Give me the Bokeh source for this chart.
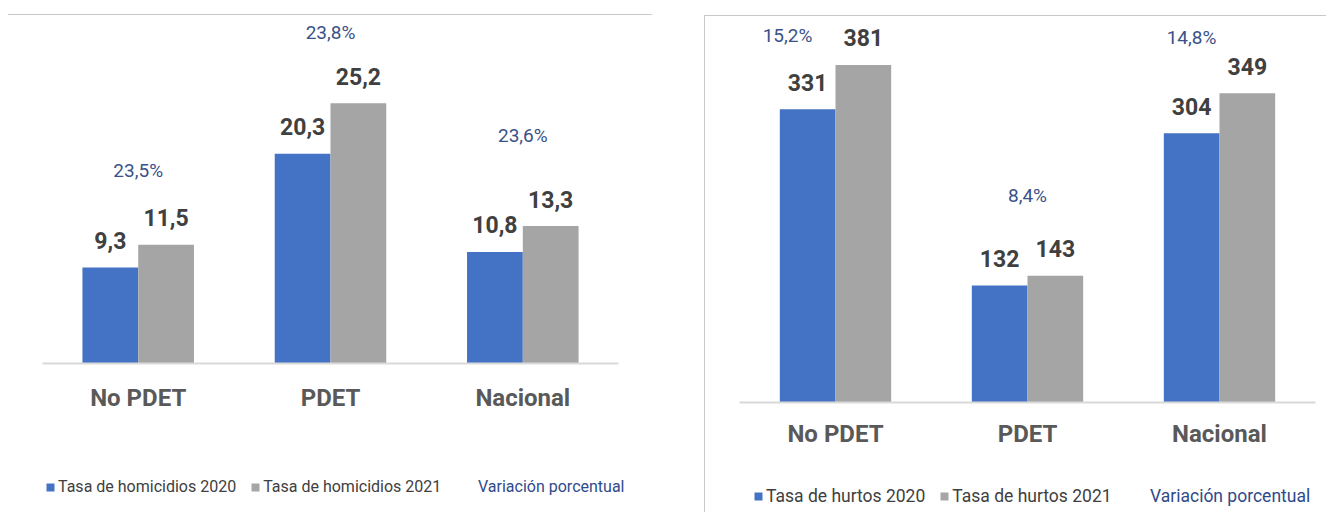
from bokeh.plotting import figure
from bokeh.models import ColumnDataSource, FactorRange, Range1d, Legend, LegendItem
from bokeh.transform import dodge
from bokeh.layouts import row
from bokeh.embed import file_html
from bokeh.resources import INLINE
from bokeh.core.properties import value

# ---------------- data ----------------
categories = ["No PDET", "PDET", "Nacional"]

hom_2020 = [9.3, 20.3, 10.8]
hom_2021 = [11.5, 25.2, 13.3]
hom_var = [23.5, 23.8, 23.6]

hurt_2020 = [331, 132, 304]
hurt_2021 = [381, 143, 349]
hurt_var = [15.2, 8.4, 14.8]

hom_labels = ["Tasa de homicidios 2020", "Tasa de homicidios 2021", "Variación porcentual"]
hurt_labels = ["Tasa de hurtos 2020", "Tasa de hurtos 2021", "Variación porcentual"]

# ---------------- label placement (layout, not data) ----------------
hom_var_label_y = [18.7, 32.0, 22.1]
hom_var_label_dx = [0, 0, 0]
hurt_var_label_y = [414, 234, 412]
hurt_var_label_dx = [-48, 0, -28]

FONT = "Roboto, 'Liberation Sans Narrow', 'DejaVu Sans Condensed', sans-serif"
FONT_V = value(FONT)
BLUE = "#4472C4"
GREY = "#A5A5A5"
PCT = "#3A5189"


def fmt1(v):
    return f"{v:.1f}".replace(".", ",")


def fmt0(v):
    return f"{v:.0f}"


def make_chart(vals_a, vals_b, var, var_y, var_dx, labels, y_lo, y_hi, fmt,
               width, height, mb_left, pad, standoff, leg_font,
               leg_x, leg_y, leg2_x, margin, styles):
    src = ColumnDataSource(dict(
        cat=categories,
        a=vals_a,
        b=vals_b,
        la=[fmt(v) for v in vals_a],
        lb=[fmt(v) for v in vals_b],
        var=var,
        vl=[fmt1(v) + "%" for v in var],
        vy=var_y,
        vdx=var_dx,
    ))
    p = figure(x_range=FactorRange(*categories, range_padding=pad,
                                   range_padding_units="absolute"),
               y_range=Range1d(y_lo, y_hi),
               width=width, height=height,
               output_backend="svg", toolbar_location=None,
               y_axis_location=None,
               min_border_left=mb_left, min_border_right=0,
               min_border_top=0, min_border_bottom=0)
    p.margin = margin
    p.styles = styles
    p.outline_line_color = None
    p.grid.visible = False
    p.background_fill_color = "white"
    p.border_fill_color = "white"

    ax = p.xaxis[0]
    ax.fixed_location = 0
    ax.bounds = (0, 3)
    ax.axis_line_color = "#D9D9D9"
    ax.axis_line_width = 2
    ax.major_tick_line_color = None
    ax.minor_tick_line_color = None
    ax.major_tick_out = 0
    ax.major_tick_in = 0
    ax.major_label_standoff = standoff
    ax.major_label_text_font = FONT
    ax.major_label_text_font_size = "24px"
    ax.major_label_text_font_style = "bold"
    ax.major_label_text_color = "#595959"

    w = 0.29
    ra = p.vbar(x=dodge("cat", -w / 2, range=p.x_range), top="a", width=w,
                source=src, fill_color=BLUE, line_color=None)
    rb = p.vbar(x=dodge("cat", w / 2, range=p.x_range), top="b", width=w,
                source=src, fill_color=GREY, line_color=None)

    for col, lab, off in (("a", "la", -w / 2), ("b", "lb", w / 2)):
        p.text(x=dodge("cat", off, range=p.x_range), y=col, text=lab, source=src,
               text_align="center", text_baseline="middle", y_offset=-27,
               text_font=FONT_V, text_font_size="23px",
               text_font_style="bold", text_color="#404040")

    rv = p.line(x="cat", y="vy", source=src, line_alpha=0)
    p.text(x="cat", y="vy", text="vl", source=src, x_offset="vdx",
           text_align="center", text_baseline="middle",
           text_font=FONT_V, text_font_size="19px", text_color=PCT)

    common = dict(orientation="horizontal", glyph_width=10, glyph_height=10,
                  label_height=10, padding=0, margin=0,
                  label_text_font=FONT, label_text_font_size=leg_font,
                  background_fill_alpha=0, border_line_color=None)
    leg = Legend(items=[LegendItem(label=labels[0], renderers=[ra]),
                        LegendItem(label=labels[1], renderers=[rb])],
                 location=(leg_x, leg_y), label_standoff=3, spacing=14,
                 label_text_color="#404040", **common)
    leg2 = Legend(items=[LegendItem(label=labels[2], renderers=[rv])],
                  location=(leg2_x, leg_y), label_standoff=0,
                  label_text_color="#2F4A8A", **{**common, "glyph_width": 0})
    p.add_layout(leg, "center")
    p.add_layout(leg2, "center")
    return p


p1 = make_chart(hom_2020, hom_2021, hom_var, hom_var_label_y, hom_var_label_dx,
                hom_labels, -149 / 10.33, 348 / 10.33, fmt1,
                width=644, height=497, mb_left=0, pad=(644 / 192.3 - 3) / 2,
                standoff=20, leg_font="16px", leg_x=37, leg_y=16, leg2_x=470,
                margin=(14, 0, 0, 8),
                styles={"border-top": "1px solid #C8C8C8"})

p2 = make_chart(hurt_2020, hurt_2021, hurt_var, hurt_var_label_y, hurt_var_label_dx,
                hurt_labels, -111 / 0.886, 386 / 0.886, fmt0,
                width=622, height=497, mb_left=22, pad=(600 / 192.0 - 3) / 2,
                standoff=17, leg_font="17.5px", leg_x=26, leg_y=7, leg2_x=423,
                margin=(15, 0, 0, 0),
                styles={"border-top": "1px solid #C8C8C8",
                        "border-left": "1px solid #C8C8C8"})

layout = row(p1, p2, spacing=52)

with open("out.html", "w") as f:
    f.write(file_html(layout, INLINE))
